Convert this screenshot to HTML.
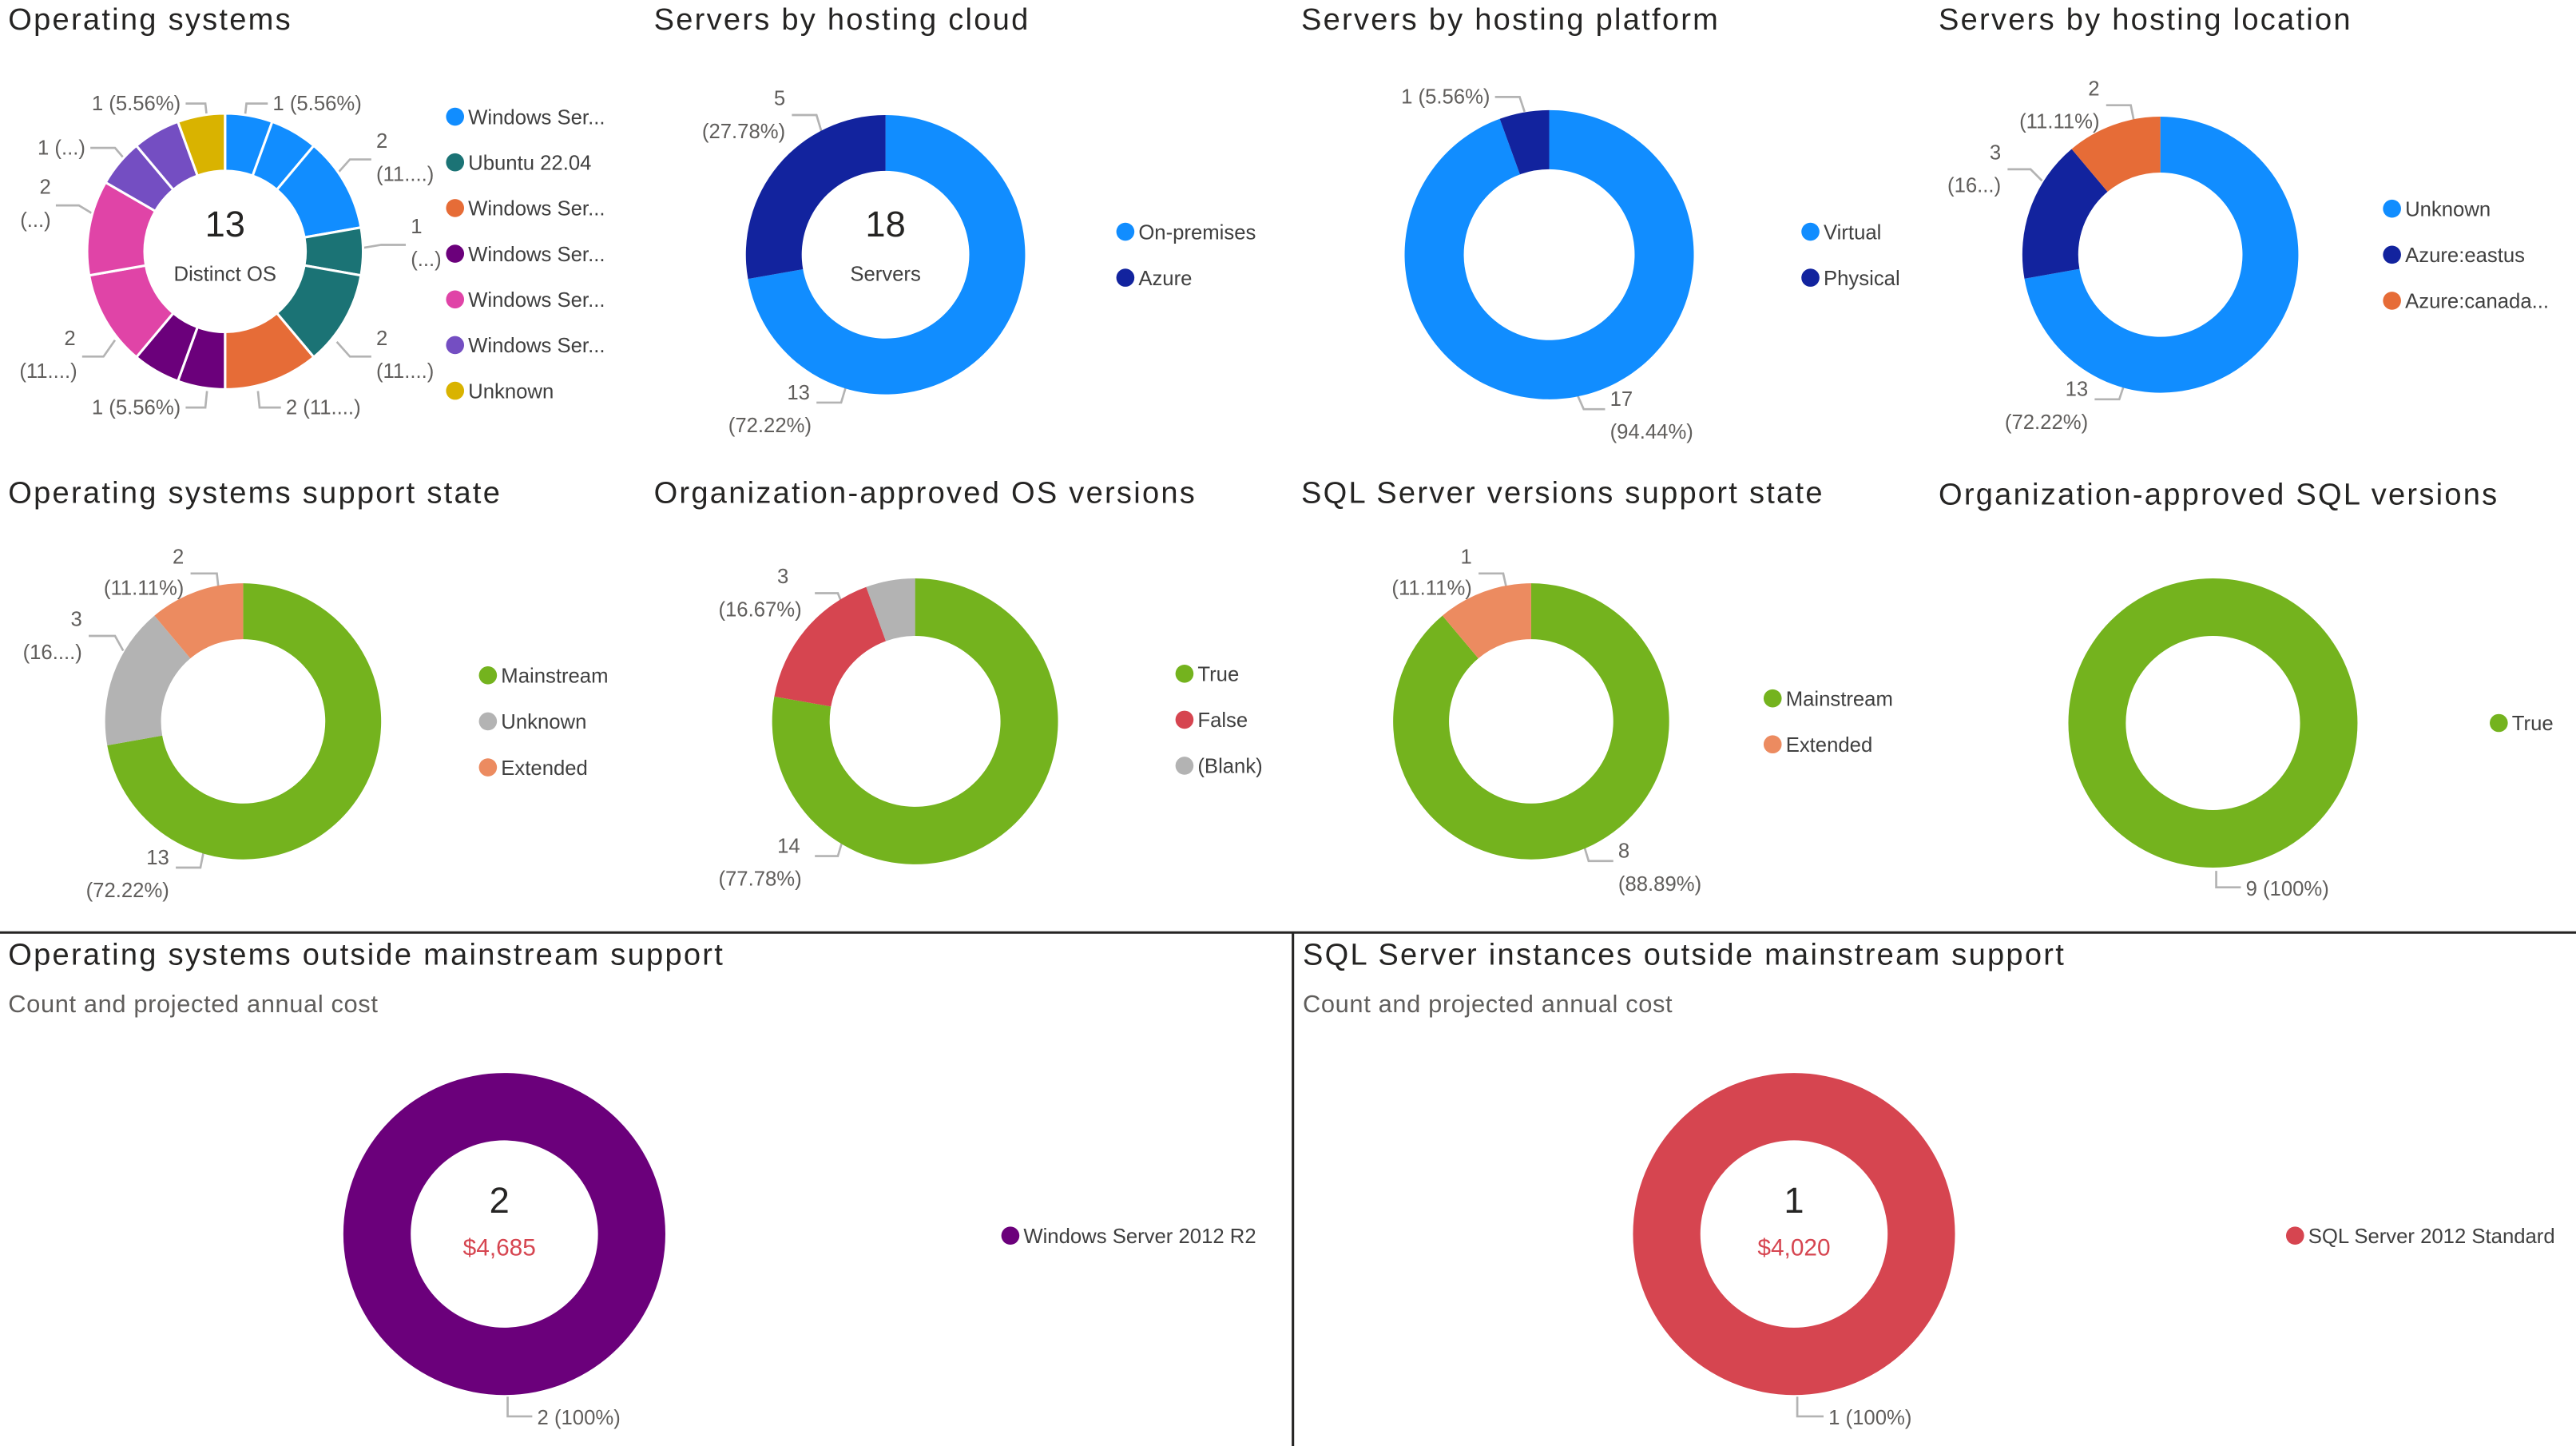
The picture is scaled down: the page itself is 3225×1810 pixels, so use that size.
<!DOCTYPE html>
<html><head><meta charset="utf-8"><style>
html,body{margin:0;padding:0;background:#fff;}
svg{display:block;}
text{font-family:"Liberation Sans",sans-serif;}
.t{font-size:18.5px;fill:#252423;letter-spacing:1.1px;}
.st{font-size:15px;fill:#605E5C;letter-spacing:0.3px;}
.l{font-size:12.5px;fill:#605E5C;}
.lg{font-size:12.5px;fill:#404040;}
.ld{fill:none;stroke:#B3B3B3;stroke-width:1.3;}
</style></head><body>
<svg id="root" width="3225" height="1810" viewBox="0 0 1568 880" xmlns="http://www.w3.org/2000/svg">
<g id="static">
<line x1="0" y1="567.5" x2="1568" y2="567.5" stroke="#252423" stroke-width="1.5"/>
<line x1="787" y1="567.5" x2="787" y2="880" stroke="#252423" stroke-width="1.5"/>
<text class="t" x="5" y="18">Operating systems</text>
<text class="t" x="398" y="18">Servers by hosting cloud</text>
<text class="t" x="792" y="18">Servers by hosting platform</text>
<text class="t" x="1180" y="18">Servers by hosting location</text>
<text class="t" x="5" y="306">Operating systems support state</text>
<text class="t" x="398" y="306">Organization-approved OS versions</text>
<text class="t" x="792" y="306">SQL Server versions support state</text>
<text class="t" x="1180" y="307">Organization-approved SQL versions</text>
<text class="t" x="5" y="587">Operating systems outside mainstream support</text>
<text class="st" x="5" y="616">Count and projected annual cost</text>
<text class="t" x="793" y="587">SQL Server instances outside mainstream support</text>
<text class="st" x="793" y="616">Count and projected annual cost</text>

<g>
<text class="l" x="110" y="67" text-anchor="end">1 (5.56%)</text><polyline class="ld" points="113,63 125,63 126,72"/>
<text class="l" x="166" y="67">1 (5.56%)</text><polyline class="ld" points="163,63 150,63 149,72"/>
<text class="l" x="229" y="90">2</text><text class="l" x="229" y="110">(11....)</text><polyline class="ld" points="226,97 213,97 205,106"/>
<text class="l" x="250" y="142">1</text><text class="l" x="250" y="162">(...)</text><polyline class="ld" points="247,149 232,149 220,151"/>
<text class="l" x="229" y="210">2</text><text class="l" x="229" y="230">(11....)</text><polyline class="ld" points="226,217 213,217 205,208"/>
<text class="l" x="174" y="252">2 (11....)</text><polyline class="ld" points="171,248 158,248 157,238"/>
<text class="l" x="110" y="252" text-anchor="end">1 (5.56%)</text><polyline class="ld" points="113,248 125,248 126,238"/>
<text class="l" x="46" y="210" text-anchor="end">2</text><text class="l" x="47" y="230" text-anchor="end">(11....)</text><polyline class="ld" points="50,217 63,217 70,207"/>
<text class="l" x="31" y="118" text-anchor="end">2</text><text class="l" x="31" y="138" text-anchor="end">(...)</text><polyline class="ld" points="34,125 48,125 58,131"/>
<text class="l" x="52" y="94" text-anchor="end">1 (...)</text><polyline class="ld" points="55,90 70,90 76,97"/>
</g>
<g>
<text class="l" x="478" y="64" text-anchor="end">5</text><text class="l" x="478" y="84" text-anchor="end">(27.78%)</text><polyline class="ld" points="482,70 497,70 500,80"/>
<text class="l" x="493" y="243" text-anchor="end">13</text><text class="l" x="494" y="263" text-anchor="end">(72.22%)</text><polyline class="ld" points="497,245 512,245 515,235"/>
</g>
<g>
<text class="l" x="907" y="63" text-anchor="end">1 (5.56%)</text><polyline class="ld" points="910,59 925,59 928,68"/>
<text class="l" x="980" y="247">17</text><text class="l" x="980" y="267">(94.44%)</text><polyline class="ld" points="977,249 964,249 960,240"/>
</g>
<g>
<text class="l" x="1278" y="58" text-anchor="end">2</text><text class="l" x="1278" y="78" text-anchor="end">(11.11%)</text><polyline class="ld" points="1282,64 1297,64 1299,74"/>
<text class="l" x="1218" y="97" text-anchor="end">3</text><text class="l" x="1218" y="117" text-anchor="end">(16...)</text><polyline class="ld" points="1222,103 1236,103 1243,110"/>
<text class="l" x="1271" y="241" text-anchor="end">13</text><text class="l" x="1271" y="261" text-anchor="end">(72.22%)</text><polyline class="ld" points="1275,243 1290,243 1293,234"/>
</g>
<g>
<text class="l" x="112" y="343" text-anchor="end">2</text><text class="l" x="112" y="362" text-anchor="end">(11.11%)</text><polyline class="ld" points="116,349 132,349 133,358"/>
<text class="l" x="50" y="381" text-anchor="end">3</text><text class="l" x="50" y="401" text-anchor="end">(16....)</text><polyline class="ld" points="54,387 70,387 75,396"/>
<text class="l" x="103" y="526" text-anchor="end">13</text><text class="l" x="103" y="546" text-anchor="end">(72.22%)</text><polyline class="ld" points="107,528 122,528 124,518"/>
</g>
<g>
<text class="l" x="480" y="355" text-anchor="end">3</text><text class="l" x="488" y="375" text-anchor="end">(16.67%)</text><polyline class="ld" points="496,361 510,361 514,371"/>
<text class="l" x="487" y="519" text-anchor="end">14</text><text class="l" x="488" y="539" text-anchor="end">(77.78%)</text><polyline class="ld" points="496,521 510,521 513,511"/>
</g>
<g>
<text class="l" x="896" y="343" text-anchor="end">1</text><text class="l" x="896" y="362" text-anchor="end">(11.11%)</text><polyline class="ld" points="900,349 915,349 917,358"/>
<text class="l" x="985" y="522">8</text><text class="l" x="985" y="542">(88.89%)</text><polyline class="ld" points="982,524 967,524 964,514"/>
</g>
<g>
<text class="l" x="1367" y="545">9 (100%)</text><polyline class="ld" points="1364,540 1349,540 1349,530"/>
</g>
<g>
<text class="l" x="327" y="867">2 (100%)</text><polyline class="ld" points="324,862 309,862 309,850"/>
</g>
<g>
<text class="l" x="1113" y="867">1 (100%)</text><polyline class="ld" points="1110,862 1094,862 1094,850"/>
</g>

<text x="137" y="144" text-anchor="middle" font-size="22" fill="#252423">13</text>
<text x="137" y="171" text-anchor="middle" font-size="12.5" fill="#404040">Distinct OS</text>
<text x="539" y="144" text-anchor="middle" font-size="22" fill="#252423">18</text>
<text x="539" y="171" text-anchor="middle" font-size="12.5" fill="#404040">Servers</text>
<text x="304" y="738" text-anchor="middle" font-size="22" fill="#252423">2</text>
<text x="304" y="764" text-anchor="middle" font-size="14.5" fill="#D64550">$4,685</text>
<text x="1092" y="738" text-anchor="middle" font-size="22" fill="#252423">1</text>
<text x="1092" y="764" text-anchor="middle" font-size="14.5" fill="#D64550">$4,020</text>
</g>
<g id="charts"></g>
</svg>
<script>
// ---- data ----
const osValues = [1,1,2,1,2,2,1,1,2,2,1,1,1];
const osColors = ['#118DFF','#118DFF','#118DFF','#1B7375','#1B7375','#E66C37','#6B007B','#6B007B','#E044A7','#E044A7','#744EC2','#744EC2','#D9B300'];
const osLegend = ['Windows Ser...','Ubuntu 22.04','Windows Ser...','Windows Ser...','Windows Ser...','Windows Ser...','Unknown'];
const osLegendColors = ['#118DFF','#1B7375','#E66C37','#6B007B','#E044A7','#744EC2','#D9B300'];
const cloudValues = [13,5];
const cloudLegend = ['On-premises','Azure'];
const platformValues = [17,1];
const platformLegend = ['Virtual','Physical'];
const locationValues = [13,3,2];
const locationLegend = ['Unknown','Azure:eastus','Azure:canada...'];
const osSupportValues = [13,3,2];
const osSupportLegend = ['Mainstream','Unknown','Extended'];
const approvedOsValues = [14,3,1];
const approvedOsLegend = ['True','False','(Blank)'];
const sqlSupportValues = [8,1];
const sqlSupportLegend = ['Mainstream','Extended'];
const approvedSqlValues = [9];
const approvedSqlLegend = ['True'];
const osOutsideValues = [2];
const osOutsideLegend = ['Windows Server 2012 R2'];
const sqlOutsideValues = [1];
const sqlOutsideLegend = ['SQL Server 2012 Standard'];

const NS='http://www.w3.org/2000/svg';
const root=document.getElementById('charts');
function arc(cx,cy,ro,ri,a0,a1){
  const p=(r,a)=>[cx+r*Math.sin(a),cy-r*Math.cos(a)];
  const large=(a1-a0)>Math.PI?1:0;
  if(a1-a0>=2*Math.PI-1e-6){
    return `M${cx},${cy-ro}A${ro},${ro} 0 1 1 ${cx},${cy+ro}A${ro},${ro} 0 1 1 ${cx},${cy-ro}Z M${cx},${cy-ri}A${ri},${ri} 0 1 0 ${cx},${cy+ri}A${ri},${ri} 0 1 0 ${cx},${cy-ri}Z`;
  }
  const [x0,y0]=p(ro,a0),[x1,y1]=p(ro,a1),[x2,y2]=p(ri,a1),[x3,y3]=p(ri,a0);
  return `M${x0},${y0}A${ro},${ro} 0 ${large} 1 ${x1},${y1}L${x2},${y2}A${ri},${ri} 0 ${large} 0 ${x3},${y3}Z`;
}
function donut(name,cx,cy,ro,ri,vals,cols,sep){
  const g=document.createElementNS(NS,'g');
  
  
  const tot=vals.reduce((a,b)=>a+b,0);
  let a=0;
  vals.forEach((v,i)=>{
    const a1=a+v/tot*2*Math.PI;
    const path=document.createElementNS(NS,'path');
    path.setAttribute('d',arc(cx,cy,ro,ri,a,a1));
    path.setAttribute('fill',cols[i]);
    path.setAttribute('fill-rule','evenodd');
    if(sep){path.setAttribute('stroke','#fff');path.setAttribute('stroke-width','1.5');}
    
    
    g.appendChild(path);
    a=a1;
  });
  root.appendChild(g);
}
function legend(name,x,y0,dy,labels,cols){
  labels.forEach((lab,i)=>{
    const g=document.createElementNS(NS,'g');
    
    
    const c=document.createElementNS(NS,'circle');
    c.setAttribute('cx',x+6);c.setAttribute('cy',y0+i*dy);c.setAttribute('r',5.5);c.setAttribute('fill',cols[i]);
    const t=document.createElementNS(NS,'text');
    t.setAttribute('x',x+14);t.setAttribute('y',y0+i*dy+4.5);t.setAttribute('class','lg');
    t.textContent=lab;
    g.appendChild(c);g.appendChild(t);root.appendChild(g);
  });
}
const BL='#118DFF',NV='#12239E',OR='#E66C37',GR='#74B31E',GY='#B3B3B3',SA='#EC8B60',RD='#D64550',PU='#6B007B';
donut('os',137,153,84,49,osValues,osColors,true);
legend('os',271,71,27.8,osLegend,osLegendColors);
donut('cloud',539,155,85,51,cloudValues,[BL,NV]);
legend('cloud',679,141,28,cloudLegend,[BL,NV]);
donut('platform',943,155,88,52,platformValues,[BL,NV]);
legend('platform',1096,141,28,platformLegend,[BL,NV]);
donut('location',1315,155,84,50,locationValues,[BL,NV,OR]);
legend('location',1450,127,28,locationLegend,[BL,NV,OR]);
donut('os-support',148,439,84,50,osSupportValues,[GR,GY,SA]);
legend('os-support',291,411,28,osSupportLegend,[GR,GY,SA]);
donut('approved-os',557,439,87,52,approvedOsValues,[GR,RD,GY]);
legend('approved-os',715,410,28,approvedOsLegend,[GR,RD,GY]);
donut('sql-support',932,439,84,50,sqlSupportValues,[GR,SA]);
legend('sql-support',1073,425,28,sqlSupportLegend,[GR,SA]);
donut('approved-sql',1347,440,88,53,approvedSqlValues,[GR]);
legend('approved-sql',1515,440,28,approvedSqlLegend,[GR]);
donut('os-outside',307,751,98,57,osOutsideValues,[PU]);
legend('os-outside',609,752,28,osOutsideLegend,[PU]);
donut('sql-outside',1092,751,98,57,sqlOutsideValues,[RD]);
legend('sql-outside',1391,752,28,sqlOutsideLegend,[RD]);
</script>
</body></html>
